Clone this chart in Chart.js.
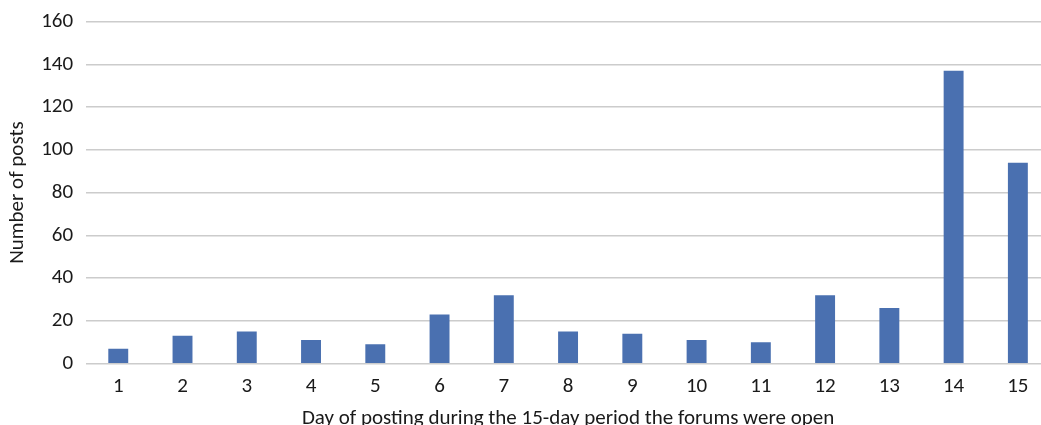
<!DOCTYPE html>
<html>
<head>
<meta charset="utf-8">
<script src="https://cdn.jsdelivr.net/npm/chart.js@4/dist/chart.umd.min.js"></script>
<style>
  html, body { margin: 0; padding: 0; background: #fff; overflow: hidden; }
  #wrap { position: relative; width: 1060px; height: 435px; margin-top: -4px; }
</style>
</head>
<body>
<div id="wrap"><canvas id="c"></canvas></div>
<script>
// Posts per day over the 15 days the forums were open
const days = ['1','2','3','4','5','6','7','8','9','10','11','12','13','14','15'];
const posts = [7, 13, 15, 11, 9, 23, 32, 15, 14, 11, 10, 32, 26, 137, 94];
const yTicks = [0, 20, 40, 60, 80, 100, 120, 140, 160];

const font = "Carlito, Calibri, Lato, sans-serif";

new Chart(document.getElementById('c'), {
  type: 'bar',
  data: {
    labels: days,
    datasets: [{
      data: posts,
      backgroundColor: '#4a70b0',
      barPercentage: 0.62,
      categoryPercentage: 0.5
    }]
  },
  options: {
    responsive: true,
    maintainAspectRatio: false,
    animation: false,
    layout: { padding: { top: 0, right: 10, bottom: 0, left: 5 } },
    plugins: { legend: { display: false }, tooltip: { enabled: false } },
    scales: {
      x: {
        grid: { display: false, drawTicks: false },
        border: { display: false },
        ticks: { color: '#1a1a1a', font: { family: font, size: 21 }, padding: 11 },
        title: {
          display: true,
          text: 'Day of posting during the 15-day period the forums were open',
          color: '#1a1a1a',
          font: { family: font, size: 21 },
          padding: { top: -5, bottom: 0 }
        }
      },
      y: {
        min: 0,
        max: 160,
        afterBuildTicks: (axis) => { axis.ticks = yTicks.map(v => ({ value: v })); },
        grid: { color: '#cccccc', lineWidth: 1.4, drawTicks: false },
        border: { display: false },
        ticks: { color: '#1a1a1a', font: { family: font, size: 21 }, padding: 13 },
        title: {
          display: true,
          text: 'Number of posts',
          color: '#1a1a1a',
          font: { family: font, size: 21 },
          padding: { top: 0, bottom: -2 }
        }
      }
    }
  }
});
</script>
</body>
</html>
